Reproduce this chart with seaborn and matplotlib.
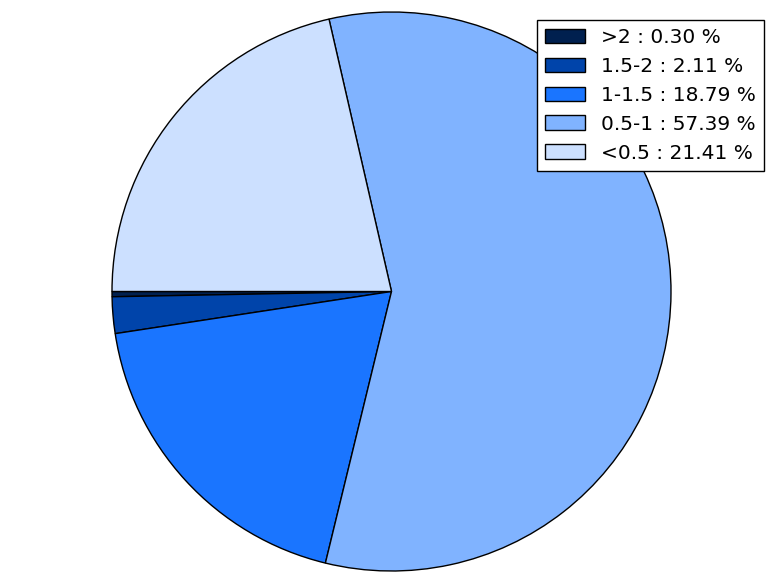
import matplotlib
matplotlib.use("Agg")
import matplotlib.pyplot as plt
import seaborn as sns

labels = [">2", "1.5-2", "1-1.5", "0.5-1", "<0.5"]
values = [0.30, 2.11, 18.79, 57.39, 21.41]
colors = ["#00204f", "#0044aa", "#1a75ff", "#80b3ff", "#cce0ff"]

sns.set_theme(style="white")
plt.rcParams['font.family'] = ['DejaVu Sans']
plt.rcParams['text.color'] = 'black'
palette = sns.color_palette(colors)

fig = plt.figure(figsize=(7.84, 5.84), dpi=100)
r = 279.5
cx, cy = 391.5, 584 - 291.5
ax = fig.add_axes([(cx - r) / 784, (cy - r) / 584, 2 * r / 784, 2 * r / 584])
wedges, _ = ax.pie(values, colors=palette, startangle=180, counterclock=True,
                   wedgeprops=dict(edgecolor="black", linewidth=1.0))
ax.set_xlim(-1, 1)
ax.set_ylim(-1, 1)
ax.set_aspect("equal")
ax.axis("off")

leg_labels = [f"{l} : {v:.2f} %" for l, v in zip(labels, values)]
leg = fig.legend(wedges, leg_labels, loc="upper right",
                 bbox_to_anchor=(764 / 784, 1 - 20 / 584), fontsize=14.5,
                 frameon=True, fancybox=False, shadow=False, framealpha=1,
                 edgecolor="black", borderaxespad=0, handlelength=2.0,
                 handleheight=0.72, labelspacing=0.49, borderpad=0.4,
                 handletextpad=0.8)
leg.get_frame().set_linewidth(1.0)
for t in leg.get_texts():
    t.set_color("black")

fig.savefig("out.png", dpi=100)
